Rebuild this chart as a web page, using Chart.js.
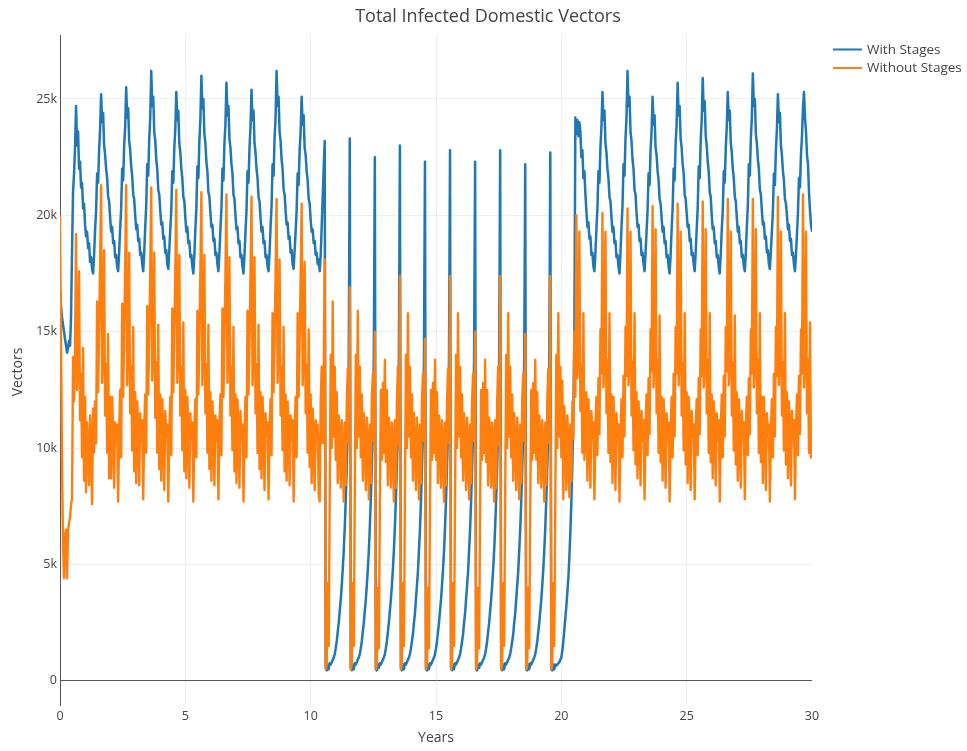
<!DOCTYPE html>
<html>
<head>
<meta charset="utf-8">
<title>Total Infected Domestic Vectors</title>
<script src="https://cdn.jsdelivr.net/npm/chart.js@4.4.1/dist/chart.umd.min.js"></script>
<style>
  html, body { margin: 0; padding: 0; background: #fff; }
  #wrap { width: 967px; height: 751px; }
</style>
</head>
<body>
<div id="wrap"><canvas id="chart" width="967" height="751"></canvas></div>
<script>
// vectors in thousands, one row per year, sampled every 0.04 years (last value is year 30)
const withStages = [
  16.8, 16.1, 15.6, 15.3, 15.0, 14.7, 14.4, 14.1, 14.3, 14.6, 14.4, 15.6, 18.5, 21.0, 21.8, 22.9, 24.7, 23.0, 23.6, 22.0, 22.3, 21.2, 21.4, 20.3, 20.5,
  19.6, 19.1, 19.3, 18.6, 18.8, 18.0, 18.2, 17.7, 17.5, 18.3, 19.4, 20.2, 21.8, 21.4, 22.8, 23.7, 25.2, 24.0, 24.4, 23.0, 22.6, 22.0, 21.6, 20.8, 20.6,
  19.9, 19.3, 19.5, 18.8, 18.9, 18.2, 18.3, 17.8, 17.6, 18.4, 19.4, 20.3, 22.0, 21.5, 23.0, 23.8, 25.5, 24.2, 24.6, 23.2, 22.8, 22.1, 21.7, 20.9, 20.7,
  20.0, 19.4, 19.6, 18.9, 19.0, 18.3, 18.4, 17.9, 17.6, 18.4, 19.5, 20.4, 22.2, 21.7, 23.3, 24.2, 26.2, 24.7, 25.1, 23.6, 23.2, 22.4, 22.0, 21.1, 20.9,
  20.2, 19.6, 19.7, 19.0, 19.1, 18.4, 18.5, 17.9, 17.7, 18.5, 19.4, 20.2, 21.9, 21.4, 22.9, 23.7, 25.3, 24.1, 24.5, 23.1, 22.7, 22.0, 21.6, 20.8, 20.6,
  19.9, 19.3, 19.5, 18.8, 18.9, 18.2, 18.3, 17.8, 17.5, 18.3, 19.4, 20.3, 22.1, 21.6, 23.2, 24.1, 26.0, 24.6, 25.0, 23.5, 23.1, 22.3, 21.9, 21.0, 20.8,
  20.1, 19.5, 19.6, 18.9, 19.0, 18.3, 18.4, 17.9, 17.6, 18.4, 19.4, 20.3, 22.0, 21.5, 23.1, 23.9, 25.7, 24.3, 24.7, 23.3, 22.9, 22.2, 21.8, 20.9, 20.7,
  20.0, 19.4, 19.5, 18.8, 18.9, 18.2, 18.3, 17.8, 17.5, 18.3, 19.3, 20.2, 21.9, 21.4, 22.9, 23.8, 25.4, 24.1, 24.5, 23.1, 22.7, 22.0, 21.6, 20.8, 20.6,
  19.9, 19.3, 19.5, 18.8, 18.9, 18.2, 18.3, 17.8, 17.6, 18.4, 19.5, 20.4, 22.2, 21.7, 23.3, 24.2, 26.2, 24.7, 25.1, 23.6, 23.2, 22.4, 22.0, 21.1, 20.9,
  20.2, 19.6, 19.7, 19.0, 19.1, 18.4, 18.5, 17.9, 17.7, 18.5, 19.3, 20.2, 21.8, 21.3, 22.8, 23.6, 25.1, 23.9, 24.3, 22.9, 22.6, 21.9, 21.5, 20.7, 20.5,
  19.8, 19.3, 19.4, 18.8, 18.9, 18.3, 18.4, 17.9, 18.1, 17.6, 18.3, 19.5, 20.8, 22.0, 23.2, 0.6, 0.45, 0.7, 0.5, 0.75, 0.7, 0.8, 0.9, 1.0, 1.15,
  1.4, 1.7, 2.1, 2.5, 3.0, 3.5, 4.1, 4.8, 5.6, 6.6, 7.8, 9.2, 10.8, 14.0, 23.3, 0.55, 0.45, 0.7, 0.5, 0.75, 0.7, 0.8, 0.9, 1.0, 1.15,
  1.4, 1.7, 2.1, 2.5, 3.0, 3.5, 4.1, 4.8, 5.6, 6.6, 7.8, 9.2, 10.8, 14.0, 22.5, 0.5, 0.45, 0.7, 0.55, 0.75, 0.7, 0.8, 0.9, 1.0, 1.15,
  1.4, 1.7, 2.1, 2.5, 3.0, 3.5, 4.1, 4.8, 5.6, 6.6, 7.8, 9.2, 10.8, 14.0, 23.0, 0.55, 0.45, 0.7, 0.5, 0.75, 0.7, 0.8, 0.9, 1.0, 1.15,
  1.4, 1.7, 2.0, 2.5, 2.9, 3.5, 4.1, 4.7, 5.6, 6.5, 7.7, 9.1, 10.7, 13.9, 22.3, 0.5, 0.45, 0.7, 0.5, 0.75, 0.7, 0.8, 0.9, 1.0, 1.15,
  1.4, 1.7, 2.1, 2.5, 3.0, 3.5, 4.1, 4.8, 5.6, 6.6, 7.8, 9.2, 10.8, 14.0, 22.8, 0.55, 0.45, 0.7, 0.5, 0.75, 0.7, 0.8, 0.9, 1.0, 1.15,
  1.4, 1.7, 2.0, 2.5, 2.9, 3.5, 4.1, 4.7, 5.6, 6.5, 7.7, 9.1, 10.7, 13.9, 22.3, 0.5, 0.45, 0.7, 0.55, 0.75, 0.7, 0.8, 0.9, 1.0, 1.15,
  1.4, 1.7, 2.1, 2.5, 3.0, 3.5, 4.1, 4.8, 5.6, 6.6, 7.8, 9.2, 10.8, 14.0, 22.8, 0.55, 0.45, 0.7, 0.5, 0.75, 0.7, 0.8, 0.9, 1.0, 1.15,
  1.4, 1.7, 2.0, 2.5, 2.9, 3.5, 4.1, 4.7, 5.6, 6.5, 7.7, 9.1, 10.7, 13.9, 22.2, 0.5, 0.45, 0.7, 0.5, 0.75, 0.7, 0.8, 0.9, 1.0, 1.15,
  1.4, 1.7, 2.1, 2.5, 3.0, 3.5, 4.1, 4.8, 5.6, 6.6, 7.8, 9.2, 10.8, 14.0, 22.7, 0.5, 0.45, 0.7, 0.5, 0.7, 0.65, 0.7, 0.75, 0.8, 0.9,
  1.0, 1.3, 1.7, 2.2, 2.7, 3.2, 3.8, 4.4, 5.3, 6.4, 7.7, 9.3, 11.5, 15.0, 24.2, 23.5, 24.1, 23.4, 24.0, 23.6, 22.5, 22.8, 21.6, 21.9, 20.9,
  20.2, 19.5, 19.7, 19.0, 19.1, 18.3, 18.4, 17.8, 17.6, 18.4, 19.4, 20.3, 21.9, 21.4, 22.9, 23.8, 25.3, 24.1, 24.5, 23.1, 22.7, 22.0, 21.6, 20.8, 20.6,
  19.9, 19.3, 19.5, 18.8, 18.9, 18.2, 18.3, 17.8, 17.5, 18.4, 19.5, 20.4, 22.2, 21.7, 23.3, 24.2, 26.2, 24.7, 25.1, 23.6, 23.2, 22.4, 22.0, 21.1, 20.9,
  20.1, 19.5, 19.6, 18.9, 19.0, 18.3, 18.4, 17.9, 17.6, 18.4, 19.3, 20.2, 21.8, 21.3, 22.8, 23.6, 25.1, 23.9, 24.3, 22.9, 22.6, 21.9, 21.5, 20.7, 20.5,
  19.9, 19.3, 19.5, 18.8, 18.9, 18.2, 18.3, 17.8, 17.5, 18.3, 19.4, 20.3, 22.0, 21.5, 23.1, 23.9, 25.7, 24.3, 24.7, 23.3, 22.9, 22.2, 21.8, 20.9, 20.7,
  20.1, 19.5, 19.6, 18.9, 19.0, 18.3, 18.4, 17.9, 17.6, 18.4, 19.4, 20.3, 22.1, 21.6, 23.2, 24.1, 25.9, 24.5, 24.9, 23.4, 23.0, 22.3, 21.9, 21.0, 20.8,
  20.0, 19.4, 19.5, 18.8, 18.9, 18.2, 18.3, 17.8, 17.5, 18.3, 19.4, 20.2, 21.9, 21.4, 22.9, 23.8, 25.3, 24.1, 24.5, 23.1, 22.7, 22.0, 21.6, 20.8, 20.6,
  19.9, 19.3, 19.5, 18.8, 18.9, 18.2, 18.3, 17.8, 17.6, 18.4, 19.5, 20.4, 22.2, 21.7, 23.3, 24.2, 26.1, 24.7, 25.0, 23.5, 23.1, 22.4, 22.0, 21.1, 20.9,
  20.2, 19.6, 19.7, 19.0, 19.1, 18.4, 18.5, 17.9, 17.7, 18.5, 19.3, 20.2, 21.8, 21.3, 22.8, 23.7, 25.2, 24.0, 24.4, 23.0, 22.6, 21.9, 21.5, 20.7, 20.5,
  20.0, 19.4, 19.6, 18.9, 19.0, 18.3, 18.4, 17.9, 17.6, 18.3, 19.2, 20.1, 21.6, 21.2, 22.6, 23.4, 24.6, 25.3, 24.2, 23.6, 22.6, 22.2, 21.0, 20.2, 19.6,
  19.3
];

const withoutStages = [
  20.0, 14.5, 9.5, 5.8, 4.4, 6.3, 6.5, 4.4, 6.4, 6.8, 7.0, 7.6, 7.8, 13.9, 12.0, 14.3, 19.2, 12.5, 14.0, 17.6, 11.2, 13.2, 9.6, 14.3, 8.6,
  12.2, 8.1, 11.1, 10.2, 8.4, 11.4, 10.0, 7.6, 11.7, 9.8, 12.0, 10.2, 16.3, 12.4, 14.9, 17.9, 21.3, 12.8, 14.5, 18.5, 11.4, 13.6, 9.8, 14.9, 8.7,
  12.2, 8.7, 12.2, 10.8, 8.3, 11.1, 10.4, 11.0, 7.7, 10.8, 12.5, 9.6, 16.2, 12.2, 14.8, 17.8, 21.3, 12.7, 14.4, 18.4, 11.5, 13.5, 9.9, 15.2, 9.0,
  12.4, 8.5, 12.0, 10.9, 8.4, 11.5, 10.3, 11.2, 7.8, 10.9, 12.3, 9.8, 16.1, 12.3, 14.7, 17.7, 21.2, 12.9, 14.3, 18.4, 11.3, 13.7, 9.8, 15.3, 9.1,
  12.3, 8.6, 12.1, 10.7, 8.2, 11.6, 10.5, 11.0, 7.7, 10.7, 12.2, 9.7, 16.0, 12.4, 14.8, 17.6, 21.1, 12.8, 14.4, 18.3, 11.4, 13.5, 9.9, 15.4, 9.0,
  12.5, 8.7, 12.2, 10.8, 8.3, 11.5, 10.4, 11.1, 7.7, 10.8, 12.1, 9.6, 15.9, 12.3, 14.6, 17.6, 21.0, 12.7, 14.3, 18.3, 11.5, 13.6, 9.8, 15.3, 9.1,
  12.4, 8.6, 12.0, 10.9, 8.4, 11.4, 10.3, 11.2, 7.8, 10.9, 12.3, 9.7, 16.0, 12.2, 14.7, 17.5, 20.9, 12.8, 14.4, 18.2, 11.4, 13.5, 9.9, 15.2, 9.0,
  12.3, 8.5, 12.1, 10.8, 8.3, 11.6, 10.4, 11.0, 7.7, 10.8, 12.2, 9.6, 15.9, 12.3, 14.6, 17.5, 20.8, 12.7, 14.3, 18.2, 11.5, 13.6, 9.8, 15.3, 9.1,
  12.4, 8.7, 12.2, 10.7, 8.2, 11.5, 10.5, 11.1, 7.8, 10.7, 12.1, 9.7, 15.8, 12.4, 14.7, 17.4, 20.7, 12.8, 14.4, 18.1, 11.4, 13.5, 9.9, 15.2, 9.0,
  12.3, 8.6, 12.0, 10.8, 8.4, 11.4, 10.3, 11.2, 7.7, 10.9, 12.2, 9.6, 15.8, 12.2, 14.6, 17.3, 20.5, 12.7, 14.3, 18.0, 11.5, 13.6, 9.8, 15.1, 9.2,
  12.3, 8.5, 11.7, 10.6, 8.2, 11.2, 10.2, 11.0, 8.0, 7.7, 12.0, 13.5, 10.2, 13.3, 18.1, 0.5, 0.7, 4.2, 1.5, 8.0, 14.0, 10.0, 16.3, 10.5, 13.5,
  9.5, 12.4, 8.5, 11.4, 10.3, 8.3, 11.2, 10.0, 7.7, 11.1, 8.4, 12.0, 13.4, 10.2, 16.9, 0.5, 0.7, 4.2, 1.5, 8.0, 14.0, 10.0, 15.9, 10.5, 13.5,
  9.6, 12.3, 8.6, 11.5, 10.2, 8.2, 11.3, 10.1, 7.8, 11.0, 8.5, 12.1, 13.2, 10.3, 15.0, 0.5, 0.7, 4.0, 1.4, 7.5, 12.5, 9.5, 12.8, 9.8, 13.8,
  9.4, 12.5, 8.4, 11.3, 10.4, 8.3, 11.1, 10.0, 7.7, 11.2, 8.3, 12.0, 13.5, 10.1, 17.4, 0.5, 0.7, 4.2, 1.5, 8.0, 14.0, 10.0, 15.8, 10.5, 13.5,
  9.6, 12.3, 8.6, 11.5, 10.2, 8.2, 11.3, 10.1, 7.8, 11.0, 8.5, 12.1, 13.2, 10.3, 14.7, 0.5, 0.7, 4.0, 1.4, 7.5, 12.5, 9.5, 12.8, 9.8, 13.8,
  9.5, 12.4, 8.5, 11.4, 10.3, 8.3, 11.2, 10.0, 7.7, 11.1, 8.4, 12.0, 13.4, 10.2, 17.4, 0.5, 0.7, 4.2, 1.5, 8.0, 14.0, 10.0, 15.8, 10.5, 13.5,
  9.6, 12.3, 8.6, 11.5, 10.2, 8.2, 11.3, 10.1, 7.8, 11.0, 8.5, 12.1, 13.2, 10.3, 15.0, 0.5, 0.7, 4.0, 1.4, 7.5, 12.5, 9.5, 12.8, 9.8, 13.8,
  9.4, 12.5, 8.4, 11.3, 10.4, 8.3, 11.1, 10.0, 7.7, 11.2, 8.3, 12.0, 13.5, 10.1, 17.4, 0.5, 0.7, 4.2, 1.5, 8.0, 14.0, 10.0, 15.8, 10.5, 13.5,
  9.6, 12.3, 8.6, 11.5, 10.2, 8.2, 11.3, 10.1, 7.8, 11.0, 8.5, 12.1, 13.2, 10.3, 14.9, 0.5, 0.7, 4.0, 1.4, 7.5, 12.5, 9.5, 12.8, 9.8, 13.8,
  9.5, 12.4, 8.5, 11.4, 10.3, 8.3, 11.2, 10.0, 7.7, 11.1, 8.4, 12.0, 13.4, 10.2, 17.4, 0.5, 0.7, 4.2, 1.5, 8.0, 14.0, 10.0, 15.8, 10.5, 13.5,
  9.6, 12.9, 7.8, 11.8, 10.6, 8.2, 11.4, 10.2, 7.9, 11.0, 8.6, 12.0, 10.4, 15.0, 12.2, 20.0, 13.0, 14.2, 19.3, 11.6, 13.6, 9.8, 15.8, 9.5, 12.0,
  12.4, 8.6, 12.1, 10.8, 8.3, 11.6, 10.4, 11.1, 7.8, 10.9, 12.2, 9.7, 13.0, 10.6, 15.1, 13.2, 20.1, 12.6, 14.0, 19.3, 11.5, 13.8, 9.8, 15.8, 9.4,
  12.3, 8.5, 12.2, 10.7, 8.2, 11.5, 10.5, 11.0, 7.7, 10.8, 12.1, 9.6, 13.1, 10.5, 15.2, 13.1, 20.3, 12.7, 14.1, 19.3, 11.4, 13.7, 9.9, 15.8, 9.3,
  12.4, 8.7, 12.0, 10.9, 8.4, 11.6, 10.3, 11.2, 7.8, 10.9, 12.3, 9.7, 13.0, 10.6, 15.1, 13.3, 20.4, 12.6, 14.0, 19.4, 11.5, 13.8, 9.8, 15.7, 9.4,
  12.2, 8.6, 12.1, 10.8, 8.3, 11.5, 10.4, 11.1, 7.7, 10.8, 12.2, 9.6, 13.2, 10.5, 15.2, 13.2, 20.5, 12.7, 14.1, 19.3, 11.4, 13.7, 9.9, 15.8, 9.3,
  12.4, 8.5, 12.2, 10.7, 8.2, 11.6, 10.5, 11.0, 7.8, 10.9, 12.1, 9.7, 13.0, 10.6, 15.1, 13.1, 20.6, 12.6, 14.0, 19.4, 11.5, 13.8, 9.8, 15.8, 9.4,
  12.3, 8.7, 12.0, 10.9, 8.4, 11.5, 10.3, 11.2, 7.7, 10.8, 12.3, 9.6, 13.1, 10.5, 15.2, 13.3, 20.7, 12.7, 14.1, 19.3, 11.4, 13.7, 9.9, 15.7, 9.3,
  12.4, 8.6, 12.1, 10.8, 8.3, 11.6, 10.4, 11.1, 7.8, 10.9, 12.2, 9.7, 13.0, 10.6, 15.1, 13.2, 20.7, 12.6, 14.0, 19.4, 11.5, 13.8, 9.8, 15.8, 9.4,
  12.2, 8.5, 12.2, 10.7, 8.2, 11.5, 10.5, 11.0, 7.7, 10.8, 12.1, 9.6, 13.2, 10.5, 15.2, 13.1, 20.8, 12.7, 14.1, 19.3, 11.4, 13.7, 9.9, 15.8, 9.3,
  12.4, 8.7, 12.0, 10.9, 8.4, 11.6, 10.3, 11.2, 7.8, 10.9, 12.3, 9.7, 13.1, 10.6, 15.1, 13.2, 20.9, 12.6, 14.0, 19.3, 11.5, 13.8, 9.8, 15.4, 9.6,
  10.1
];

const seriesNames = ["With Stages", "Without Stages"];
const xTickValues = [0, 5, 10, 15, 20, 25, 30];
const yTickValues = [0, 5, 10, 15, 20, 25];

const SAMPLE_STEP = 0.04;
const COLORS = ["#1f77b4", "#ff7f0e"];
const TEXT = "#444";
const FONT = "'Open Sans', sans-serif";

const sampleYears = withStages.map((_, i) => +(i * SAMPLE_STEP).toFixed(2));

// title, axis titles and legend are painted straight onto the canvas
const annotations = {
  id: "annotations",
  afterDraw(chart) {
    const ctx = chart.ctx;
    const area = chart.chartArea;
    ctx.save();
    ctx.fillStyle = TEXT;
    ctx.textBaseline = "middle";
    ctx.textAlign = "center";

    ctx.font = "18px " + FONT;
    ctx.fillText("Total Infected Domestic Vectors", 488, 17);

    ctx.font = "14px " + FONT;
    ctx.fillText("Years", (area.left + area.right) / 2, 738);

    ctx.save();
    ctx.translate(18, (area.top + area.bottom) / 2 + 2);
    ctx.rotate(-Math.PI / 2);
    ctx.fillText("Vectors", 0, 0);
    ctx.restore();

    // legend
    ctx.font = "13.5px " + FONT;
    ctx.textAlign = "left";
    seriesNames.forEach((name, i) => {
      const y = 49.5 + i * 18.5;
      ctx.strokeStyle = COLORS[i];
      ctx.lineWidth = 2;
      ctx.beginPath();
      ctx.moveTo(833, y);
      ctx.lineTo(862, y);
      ctx.stroke();
      ctx.fillStyle = TEXT;
      ctx.fillText(name, 867, y + 0.5);
    });
    ctx.restore();
  }
};

new Chart(document.getElementById("chart"), {
  type: "line",
  data: {
    labels: sampleYears,
    datasets: [
      {
        label: seriesNames[0],
        data: withStages,
        borderColor: COLORS[0],
        backgroundColor: COLORS[0],
        borderWidth: 2.5,
        borderJoinStyle: "round",
        pointRadius: 0,
        tension: 0,
        order: 1
      },
      {
        label: seriesNames[1],
        data: withoutStages,
        borderColor: COLORS[1],
        backgroundColor: COLORS[1],
        borderWidth: 2.4,
        borderJoinStyle: "round",
        pointRadius: 0,
        tension: 0,
        order: 0
      }
    ]
  },
  options: {
    responsive: false,
    animation: false,
    events: [],
    layout: { padding: { top: 35, right: 155, bottom: 0, left: 0 } },
    scales: {
      x: {
        type: "linear",
        min: 0,
        max: 30,
        afterBuildTicks: (s) => { s.ticks = xTickValues.map(value => ({ value })); },
        afterFit: (s) => { s.height = 46; },
        ticks: {
          color: TEXT,
          font: { family: FONT, size: 12.5 },
          padding: 4,
          maxRotation: 0,
          autoSkip: false
        },
        grid: {
          drawTicks: false,
          color: (c) => (c.tick && (c.tick.value === 0 || c.tick.value === 30) ? "rgba(0,0,0,0)" : "#eee"),
          lineWidth: 1
        },
        border: { display: false }
      },
      y: {
        type: "linear",
        min: -1.04,
        max: 27.75,
        afterBuildTicks: (s) => { s.ticks = yTickValues.map(value => ({ value })); },
        afterFit: (s) => { s.width = 60; },
        ticks: {
          color: TEXT,
          font: { family: FONT, size: 12.5 },
          padding: 3,
          autoSkip: false,
          callback: (v) => (v === 0 ? "0" : v + "k")
        },
        grid: {
          drawTicks: false,
          color: (c) => (c.tick && c.tick.value === 0 ? "#555" : "#eee"),
          lineWidth: 1
        },
        border: { display: true, color: "#555", width: 1 }
      }
    },
    plugins: {
      legend: { display: false },
      title: { display: false },
      tooltip: { enabled: false }
    }
  },
  plugins: [annotations]
});
</script>
</body>
</html>
